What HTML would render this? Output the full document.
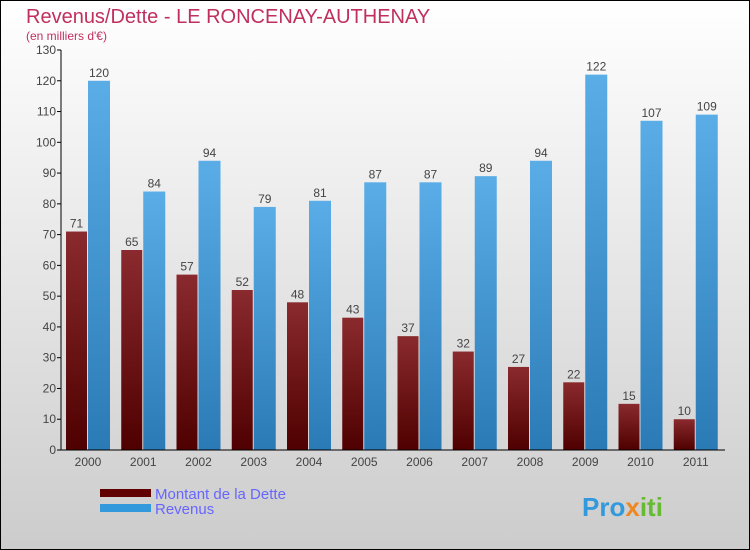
<!DOCTYPE html>
<html><head><meta charset="utf-8"><style>
body{margin:0;width:750px;height:550px;overflow:hidden}
svg{display:block;font-family:"Liberation Sans",sans-serif}
</style></head><body>
<svg id="c" width="750" height="550">
<defs>
<linearGradient id="bg" x1="0" y1="0" x2="0" y2="1"><stop offset="0" stop-color="#ffffff"/><stop offset="1" stop-color="#cccccc"/></linearGradient>
<linearGradient id="gr" x1="0" y1="0" x2="0" y2="1"><stop offset="0" stop-color="#8a2a2e"/><stop offset="1" stop-color="#4f0000"/></linearGradient>
<linearGradient id="gb" x1="0" y1="0" x2="0" y2="1"><stop offset="0" stop-color="#5aade6"/><stop offset="1" stop-color="#2a7ab6"/></linearGradient>
</defs>
<rect x="0.5" y="0.5" width="749" height="549" fill="url(#bg)" stroke="#000"/>
<text x="26" y="23" font-size="20" fill="#c0305f">Revenus/Dette - LE RONCENAY-AUTHENAY</text>
<text x="26" y="40" font-size="12" fill="#c0305f">(en milliers d'€)</text>
<g id="plot"></g>
<rect x="100" y="489" width="51" height="8" fill="#600000"/>
<text x="155" y="499" font-size="15" fill="#6666ff">Montant de la Dette</text>
<rect x="100" y="504" width="51" height="8" fill="#3399dd"/>
<text x="155" y="514" font-size="15" fill="#6666ff">Revenus</text>
<text x="582" y="516" font-size="26" font-weight="bold"><tspan fill="#3399dd">Pro</tspan><tspan fill="#ee8822">x</tspan><tspan fill="#66bb33">iti</tspan></text>
</svg>
<script>
const years=["2000","2001","2002","2003","2004","2005","2006","2007","2008","2009","2010","2011"];
const debt=[71,65,57,52,48,43,37,32,27,22,15,10];
const revenue=[120,84,94,79,81,87,87,89,94,122,107,109];
const ticks=[0,10,20,30,40,50,60,70,80,90,100,110,120,130];
const NS="http://www.w3.org/2000/svg";
const g=document.getElementById('plot');
const y0=450,x0=61,step=55.25,maxV=130,h=400;
const Y=v=>y0-v/maxV*h;
const X=i=>x0+i*step;
function mk(t,a,txt){const e=document.createElementNS(NS,t);for(const k in a)e.setAttribute(k,a[k]);if(txt!=null)e.textContent=txt;g.appendChild(e);return e;}
ticks.forEach(t=>{
 const l=mk('line',{x1:x0-4,x2:x0,y1:Y(t),y2:Y(t),stroke:'#000'});
 
 
 const tx=mk('text',{x:x0-5,y:Y(t)+4,'font-size':12,fill:'#444','text-anchor':'end'},t);
 
 
});
years.forEach((yr,i)=>{
 const bx=X(i)+5;
 const r=mk('rect',{x:bx,y:Y(debt[i]),width:21,height:y0-Y(debt[i]),fill:'url(#gr)'});
 
 
 const b=mk('rect',{x:bx+22,y:Y(revenue[i]),width:22,height:y0-Y(revenue[i]),fill:'url(#gb)'});
 
 
 const t1=mk('text',{x:bx+10.5,y:Y(debt[i])-4,'font-size':12,fill:'#444','text-anchor':'middle'},debt[i]);
 
 
 const t2=mk('text',{x:bx+33,y:Y(revenue[i])-4,'font-size':12,fill:'#444','text-anchor':'middle'},revenue[i]);
 
 
 const xl=mk('text',{x:bx+22,y:466,'font-size':12,fill:'#444','text-anchor':'middle'},yr);
 
 
});
const ax=mk('line',{x1:x0,x2:x0,y1:Y(130),y2:y0,stroke:'#000'});


const bx=mk('line',{x1:x0-4,x2:725,y1:y0,y2:y0,stroke:'#000'});


</script>
</body></html>
